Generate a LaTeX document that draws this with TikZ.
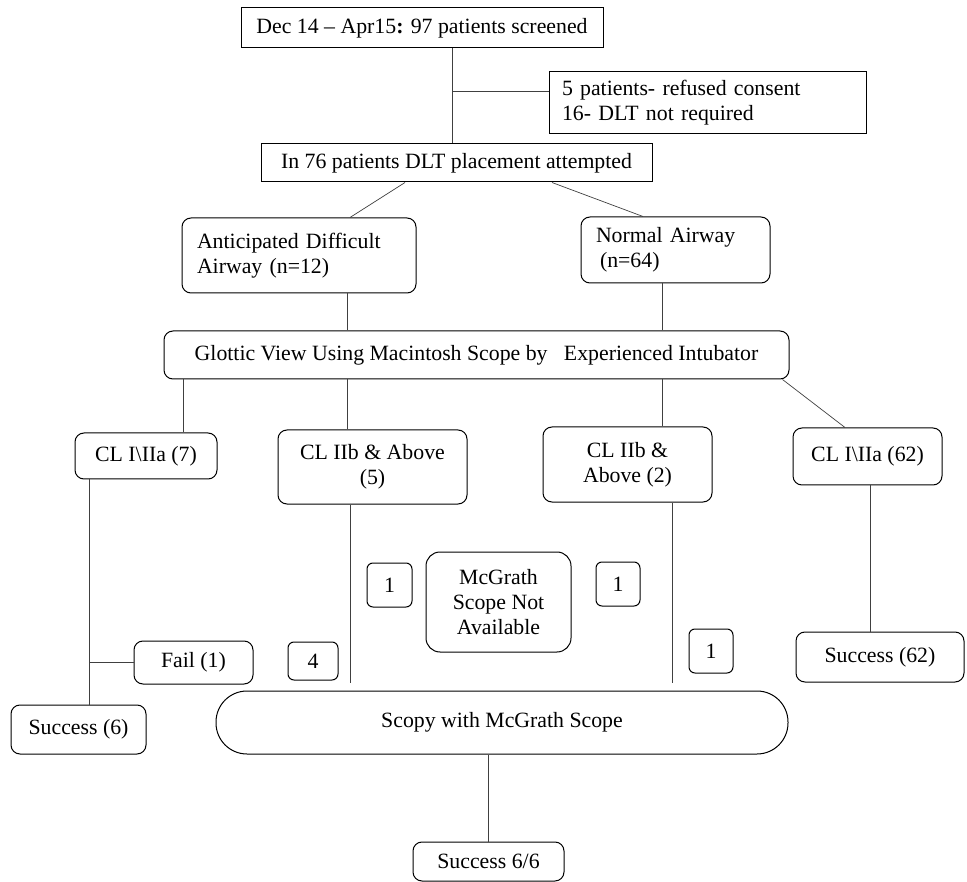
\documentclass[tikz,border=0pt]{standalone}
\usepackage{fontspec}
\setmainfont{Liberation Serif}
\usetikzlibrary{
	calc,
	positioning,
}
\tikzset{
	box/.style={draw, line width=1pt, inner sep=0pt, align=center},
	rbox/.style={box, rounded corners=9pt},
	link/.style={draw=black!75, line width=0.7pt},
}

\begin{document}
\begin{tikzpicture}[x=1pt, y=-1pt, font=\fontsize{21.8}{25}\selectfont]
\useasboundingbox (0,0) rectangle (967,882);
% top part
\node[box, minimum width=362, minimum height=40] (screen) at (422,28) {Dec 14 -- Apr15\textbf{:} 97 patients screened};
\node[box, minimum width=317, minimum height=62, text width=291, align=left] (excl) at (707.5,103)
    {5 patients- refused consent\\16- DLT not required};
\node[box, minimum width=391, minimum height=38] (attempt) at (456.5,163) {In 76 patients DLT placement attempted};
\node[rbox, minimum width=234, minimum height=75, text width=204, align=left] (antic) at (299,255.5)
    {Anticipated Difficult\\Airway (n=12)};
\node[rbox, minimum width=189, minimum height=66, text width=159, align=left] (normal) at (675.5,250)
    {Normal Airway\\\hspace{4pt}(n=64)};
\node[rbox, minimum width=625, minimum height=48] (glottic) at (476.5,355)
    {Glottic View Using Macintosh Scope by\ \ \ Experienced Intubator};
% glottic view grades
\node[rbox, minimum width=142, minimum height=46] (cl7) at (146,456) {CL I\textbackslash IIa (7)};
\node[rbox, minimum width=189, minimum height=74] (cl5) at (372.5,467) {CL IIb \& Above\\(5)};
\node[rbox, minimum width=169, minimum height=75] (cl2) at (627.5,464.5) {CL IIb \&\\Above (2)};
\node[rbox, minimum width=149, minimum height=57] (cl62) at (867.5,456.5) {CL I\textbackslash IIa (62)};
% small counts
\node[rbox, rounded corners=6pt, minimum width=45, minimum height=44] (oneL) at (389.5,585) {1};
\node[rbox, rounded corners=14pt, minimum width=145, minimum height=100] (mcg) at (498.5,602)
    {McGrath\\Scope Not\\Available};
\node[rbox, rounded corners=6pt, minimum width=44, minimum height=44] (oneR) at (618,584) {1};
\node[rbox, rounded corners=6pt, minimum width=50, minimum height=38] (four) at (313,661) {4};
\node[rbox, rounded corners=6pt, minimum width=44, minimum height=44] (oneB) at (711,651) {1};
\node[rbox, minimum width=119, minimum height=43] (fail) at (193.5,662.5) {Fail (1)};
% outcomes
\node[rbox, minimum width=135, minimum height=49] (succ6) at (78.5,729.5) {Success (6)};
\node[rbox, minimum width=168, minimum height=50] (succ62) at (880,657) {Success (62)};
\node[box, rounded corners=31pt, minimum width=572, minimum height=63] (scopy) at (502,722.5)
    {Scopy with McGrath Scope};
\node[rbox, minimum width=151, minimum height=39] (succ66) at (488.5,861.5) {Success 6/6};

% connectors
\coordinate (split) at (452,91);
\path[link] (screen.south -| split) -- (attempt.north -| split);
\path[link] (split) -- (excl.west |- split);
\path[link] ([xshift=-51.5pt]attempt.south) -- ([xshift=51pt]antic.north);
\path[link] ([xshift=95.5pt]attempt.south) -- ([xshift=-32.5pt]normal.north);
\path[link] ([xshift=48pt]antic.south) -- ([xshift=48pt]antic.south |- glottic.north);
\path[link] ([xshift=-13.5pt]normal.south) -- ([xshift=-13.5pt]normal.south |- glottic.north);
\path[link] ([xshift=37pt]cl7.north) -- ([xshift=37pt]cl7.north |- glottic.south);
\path[link] ([xshift=-25.5pt]cl5.north) -- ([xshift=-25.5pt]cl5.north |- glottic.south);
\path[link] ([xshift=34.5pt]cl2.north) -- ([xshift=34.5pt]cl2.north |- glottic.south);
\path[link] ([xshift=-7pt]glottic.south east) -- ([xshift=-22.5pt]cl62.north);
\coordinate (cl7foot) at ([xshift=-57pt]cl7.south |- succ6.north);
\path[link] ([xshift=-57pt]cl7.south) -- (cl7foot);
\path[link] (fail.west) -- (fail.west -| cl7foot);
\path[link] ([xshift=-22.5pt]cl5.south) -- ([xshift=-22.5pt,yshift=8pt]cl5.south |- scopy.north);
\path[link] ([xshift=44.5pt]cl2.south) -- ([xshift=44.5pt,yshift=8pt]cl2.south |- scopy.north);
\path[link] ([xshift=2.5pt]cl62.south) -- ([xshift=2.5pt]cl62.south |- succ62.north);
\path[link] (scopy.south -| succ66.north) -- (succ66.north);
\end{tikzpicture}
\end{document}
